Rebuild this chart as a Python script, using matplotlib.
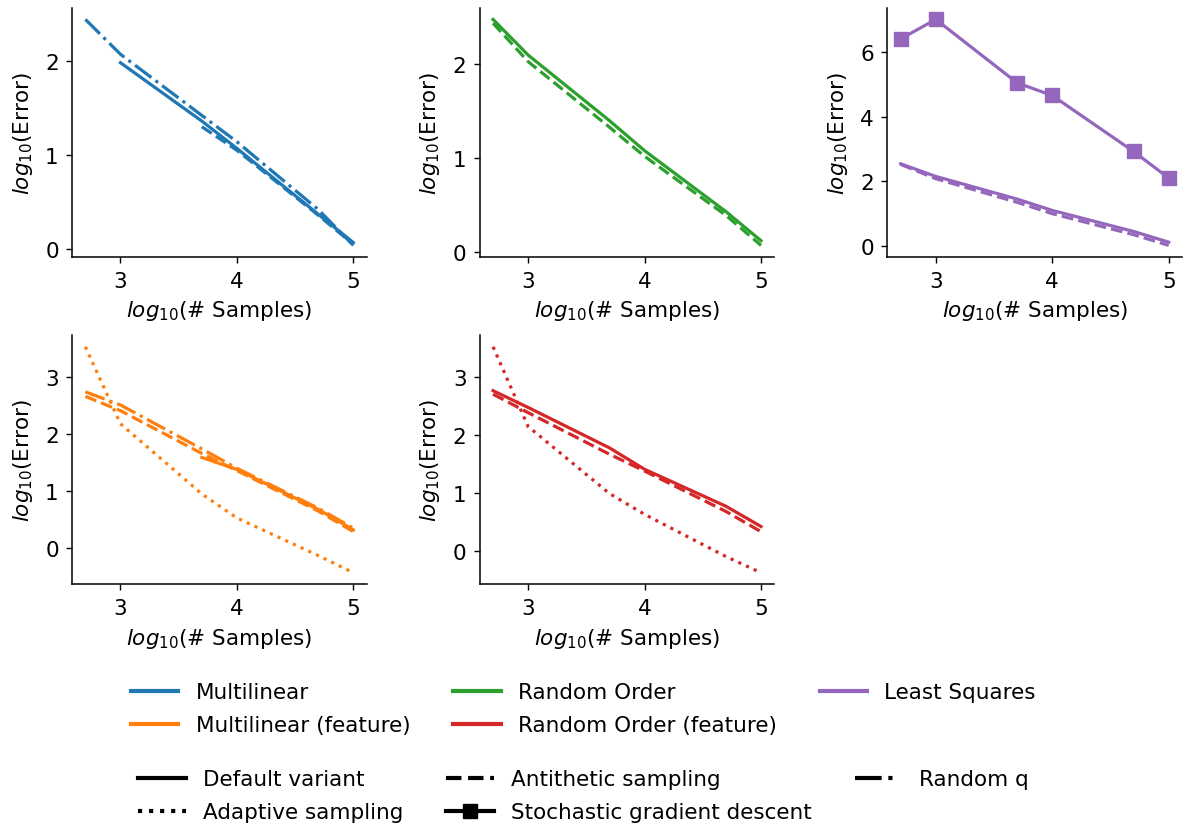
import numpy as np
import matplotlib
matplotlib.use("Agg")
from matplotlib import pyplot as plt
from matplotlib.lines import Line2D
from matplotlib.ticker import MaxNLocator

# number of samples used in each run
SAMPLES = [500, 1000, 5000, 10000, 50000, 100000]

# log10(error) per method and variant (nan = not run)
MULTILINEAR_DEFAULT = [np.nan, 1.98, 1.36, 1.07, 0.37, 0.07]
MULTILINEAR_ANTITHETIC = [np.nan, np.nan, 1.30, 1.05, 0.36, 0.05]
MULTILINEAR_RANDOM_Q = [2.44, 2.07, 1.42, 1.14, 0.42, 0.04]

RANDOM_ORDER_DEFAULT = [2.48, 2.10, 1.40, 1.08, 0.43, 0.12]
RANDOM_ORDER_ANTITHETIC = [2.44, 2.03, 1.33, 1.02, 0.39, 0.07]

LEAST_SQUARES_DEFAULT = [2.54, 2.15, 1.45, 1.10, 0.45, 0.12]
LEAST_SQUARES_ANTITHETIC = [2.52, 2.08, 1.35, 1.00, 0.35, 0.02]
LEAST_SQUARES_SGD = [6.40, 7.00, 5.04, 4.65, 2.92, 2.10]

MULTILINEAR_FEAT_DEFAULT = [np.nan, np.nan, 1.59, 1.38, 0.68, 0.32]
MULTILINEAR_FEAT_ANTITHETIC = [2.66, 2.41, 1.66, 1.36, 0.65, 0.29]
MULTILINEAR_FEAT_RANDOM_Q = [2.74, 2.51, 1.74, 1.40, 0.70, 0.35]
MULTILINEAR_FEAT_ADAPTIVE = [3.53, 2.18, 0.95, 0.53, -0.13, -0.43]

RANDOM_ORDER_FEAT_DEFAULT = [2.77, 2.48, 1.78, 1.41, 0.77, 0.42]
RANDOM_ORDER_FEAT_ANTITHETIC = [2.71, 2.39, 1.67, 1.38, 0.68, 0.33]
RANDOM_ORDER_FEAT_ADAPTIVE = [3.53, 2.15, 0.99, 0.63, -0.10, -0.38]

METHODS = ["Multilinear", "Multilinear (feature)", "Random Order",
           "Random Order (feature)", "Least Squares"]
COLORS = ["#1f77b4", "#ff7f0e", "#2ca02c", "#d62728", "#9467bd"]
VARIANTS = ["Default variant", "Adaptive sampling", "Antithetic sampling",
            "Stochastic gradient descent", "Random q"]

LW = 2.3
TICK_SIZE = 15.5
LABEL_SIZE = 15.5

plt.rcParams["axes.linewidth"] = 1.1
plt.rcParams["xtick.major.size"] = 4.5
plt.rcParams["ytick.major.size"] = 4.5
plt.rcParams["xtick.major.width"] = 1.0
plt.rcParams["ytick.major.width"] = 1.0
plt.rcParams["xtick.major.pad"] = 5.5
plt.rcParams["ytick.major.pad"] = 5.0

x = np.log10(SAMPLES)

fig, axs = plt.subplots(2, 3, figsize=(11.86, 8.29), dpi=100,
                        gridspec_kw=dict(left=0.0607, right=0.9967, top=0.989,
                                         bottom=0.2943, wspace=0.383, hspace=0.317))

panels = [
    (axs[0, 0], COLORS[0], [(MULTILINEAR_DEFAULT, "-", None),
                            (MULTILINEAR_ANTITHETIC, "--", None),
                            (MULTILINEAR_RANDOM_Q, "-.", None)]),
    (axs[0, 1], COLORS[2], [(RANDOM_ORDER_DEFAULT, "-", None),
                            (RANDOM_ORDER_ANTITHETIC, "--", None)]),
    (axs[0, 2], COLORS[4], [(LEAST_SQUARES_DEFAULT, "-", None),
                            (LEAST_SQUARES_ANTITHETIC, "--", None),
                            (LEAST_SQUARES_SGD, "-", "s")]),
    (axs[1, 0], COLORS[1], [(MULTILINEAR_FEAT_DEFAULT, "-", None),
                            (MULTILINEAR_FEAT_ANTITHETIC, "--", None),
                            (MULTILINEAR_FEAT_RANDOM_Q, "-.", None),
                            (MULTILINEAR_FEAT_ADAPTIVE, ":", None)]),
    (axs[1, 1], COLORS[3], [(RANDOM_ORDER_FEAT_DEFAULT, "-", None),
                            (RANDOM_ORDER_FEAT_ANTITHETIC, "--", None),
                            (RANDOM_ORDER_FEAT_ADAPTIVE, ":", None)]),
]

for ax, color, lines in panels:
    for values, ls, marker in lines:
        ax.plot(x, values, color=color, linestyle=ls, lw=LW, marker=marker, markersize=9.5)
    ax.spines["top"].set_visible(False)
    ax.spines["right"].set_visible(False)
    ax.set_xticks([3, 4, 5])
    ax.yaxis.set_major_locator(MaxNLocator(nbins=5, integer=True))
    ax.tick_params(labelsize=TICK_SIZE)
    ax.set_xlabel("$log_{10}$(# Samples)", fontsize=LABEL_SIZE, labelpad=5.5)
    ax.set_ylabel("$log_{10}$(Error)", fontsize=LABEL_SIZE, labelpad=7.5)

axs[1, 2].axis("off")

color_handles = [Line2D([], [], color=c, lw=3) for c in COLORS]
style_handles = [
    Line2D([], [], color="black", lw=3, linestyle="-"),
    Line2D([], [], color="black", lw=3, linestyle=":"),
    Line2D([], [], color="black", lw=3, linestyle="--"),
    Line2D([], [], color="black", lw=3, linestyle="-", marker="s", markersize=9.5),
    Line2D([], [], color="black", lw=3, linestyle=(0, (6.4, 1.6, 1.0, 4.0))),
]

fig.legend(color_handles, METHODS, loc="upper center", bbox_to_anchor=(0.492, 0.199),
           ncol=3, frameon=False, fontsize=LABEL_SIZE, handlelength=2.2, labelspacing=0.6)
fig.legend(style_handles, VARIANTS, loc="upper center", bbox_to_anchor=(0.492, 0.094),
           ncol=3, frameon=False, fontsize=LABEL_SIZE, handlelength=2.2, labelspacing=0.6)

fig.savefig("out.png", dpi=100)
